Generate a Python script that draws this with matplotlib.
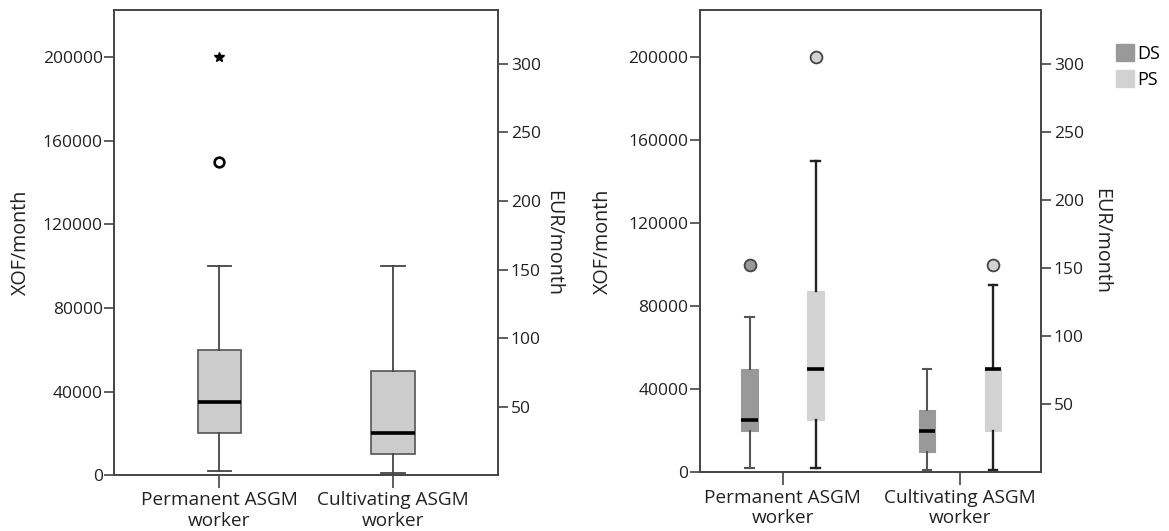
import matplotlib
matplotlib.use("Agg")
import matplotlib.pyplot as plt
from matplotlib.patches import Patch

plt.rcParams['font.family'] = ['Open Sans', 'DejaVu Sans']

# ---------------- data ----------------
categories = ["Permanent ASGM\nworker", "Cultivating ASGM\nworker"]
xof_per_eur = 655.957

# left panel: all workers
all_whislo = [2000, 1000]
all_q1 = [20000, 10000]
all_med = [35000, 20000]
all_q3 = [60000, 50000]
all_whishi = [100000, 100000]
all_outliers = [[150000], []]
all_extremes = [[200000], []]

# right panel: DS / PS
groups = ["DS", "PS"]
ds_whislo = [2000, 1000]
ds_q1 = [20000, 10000]
ds_med = [25000, 20000]
ds_q3 = [50000, 30000]
ds_whishi = [75000, 50000]
ds_outliers = [[100000], []]

ps_whislo = [2000, 1000]
ps_q1 = [25000, 20000]
ps_med = [50000, 50000]
ps_q3 = [87500, 50000]
ps_whishi = [150000, 90000]
ps_outliers = [[200000], [100000]]

xof_ticks = [0, 40000, 80000, 120000, 160000, 200000]
eur_ticks = [50, 100, 150, 200, 250, 300]

# ---------------- styling ----------------
W, H = 1169, 531
fig = plt.figure(figsize=(W / 100, H / 100), dpi=100)
spine_c = '#444444'
TXT = '#222222'
CAT_FS = 13.7
TFS = 12.5
YL_FS = 14.2
ymax = 222500


def stats(lo, q1, med, q3, hi, fl):
    return [dict(whislo=a, q1=b, med=c, q3=d, whishi=e, fliers=f, label='')
            for a, b, c, d, e, f in zip(lo, q1, med, q3, hi, fl)]


def style_axes(ax, xlim, label_x_left, label_x_right):
    ax.set_xlim(*xlim)
    ax.set_ylim(0, ymax)
    ax.set_yticks(xof_ticks)
    ax.set_yticklabels([str(t) for t in xof_ticks], fontsize=TFS, color=TXT)
    ax.set_xticks([1, 2])
    ax.set_xticklabels(categories, fontsize=CAT_FS, color=TXT, linespacing=1.17)
    ax.tick_params(axis='x', length=9.4, width=1.2, color=spine_c, pad=2.2)
    ax.tick_params(axis='y', length=7.2, width=1.2, color=spine_c, pad=1)
    for s in ax.spines.values():
        s.set_color(spine_c)
        s.set_linewidth(1.2)
    ax2 = ax.twinx()
    ax2.set_ylim(0, ymax / xof_per_eur)
    ax2.set_yticks(eur_ticks)
    ax2.set_yticklabels([str(t) for t in eur_ticks], fontsize=TFS, color=TXT)
    ax2.tick_params(axis='y', length=7.5, width=1.2, color=spine_c, pad=1.5)
    for s in ax2.spines.values():
        s.set_color(spine_c)
        s.set_linewidth(1.2)
    ax.text(label_x_left, 0.5, "XOF/month", transform=ax.transAxes, rotation=90,
            ha='center', va='center', fontsize=YL_FS, color=TXT)
    ax.text(label_x_right, 0.5, "EUR/month", transform=ax.transAxes, rotation=270,
            ha='center', va='center', fontsize=YL_FS, color=TXT)
    return ax2


# ---------------- left panel ----------------
axL = fig.add_axes([114.3 / W, 1 - 475.1 / H, (498.2 - 114.3) / W, (475.1 - 10.2) / H])
posL = [1, 2]
axL.bxp(stats(all_whislo, all_q1, all_med, all_q3, all_whishi, all_outliers),
        positions=posL, widths=0.25, capwidths=0.135, patch_artist=True,
        boxprops=dict(facecolor='#cccccc', edgecolor='#555555', linewidth=1.2),
        medianprops=dict(color='black', linewidth=2.6),
        whiskerprops=dict(color='#444444', linewidth=1.3),
        capprops=dict(color='#444444', linewidth=1.3),
        flierprops=dict(marker='o', markersize=7, markerfacecolor='white',
                        markeredgecolor='black', markeredgewidth=1.9, linestyle='none'))
for p, ex in zip(posL, all_extremes):
    if ex:
        axL.plot([p] * len(ex), ex, linestyle='none', marker='*', markersize=7,
                 color='black')
style_axes(axL, (0.394, 2.606), -0.244, 1.144)

# ---------------- right panel ----------------
axR = fig.add_axes([700 / W, 1 - 472.4 / H, (1041.2 - 700) / W, (472.4 - 10.2) / H])
off = 0.186
ds_color = '#999999'
ps_color = '#d2d2d2'
posDS = [1 - off, 2 - off]
posPS = [1 + off, 2 + off]
axR.bxp(stats(ds_whislo, ds_q1, ds_med, ds_q3, ds_whishi, ds_outliers),
        positions=posDS, widths=0.094, capwidths=0.05, patch_artist=True,
        boxprops=dict(facecolor=ds_color, edgecolor=ds_color, linewidth=0.8),
        medianprops=dict(color='black', linewidth=2.6),
        whiskerprops=dict(color='#555555', linewidth=1.5),
        capprops=dict(color='#555555', linewidth=1.5),
        flierprops=dict(marker='o', markersize=8.5, markerfacecolor=ds_color,
                        markeredgecolor='#444444', markeredgewidth=1.3, linestyle='none'))
axR.bxp(stats(ps_whislo, ps_q1, ps_med, ps_q3, ps_whishi, ps_outliers),
        positions=posPS, widths=0.094, capwidths=0.05, patch_artist=True,
        boxprops=dict(facecolor=ps_color, edgecolor=ps_color, linewidth=0.8),
        medianprops=dict(color='black', linewidth=2.6),
        whiskerprops=dict(color='#222222', linewidth=1.7),
        capprops=dict(color='#222222', linewidth=1.7),
        flierprops=dict(marker='o', markersize=8.5, markerfacecolor=ps_color,
                        markeredgecolor='#444444', markeredgewidth=1.3, linestyle='none'))
style_axes(axR, (0.5334, 2.458), -0.284, 1.175)

handles = [Patch(facecolor=ds_color, edgecolor=ds_color, label=groups[0]),
           Patch(facecolor=ps_color, edgecolor=ps_color, label=groups[1])]
fig.legend(handles=handles, loc='upper left', bbox_to_anchor=(1116 / W, 1 - 44 / H),
           frameon=False, fontsize=13, handlelength=1.0, handleheight=1.05,
           handletextpad=0.15, labelspacing=0.42, borderpad=0, borderaxespad=0)

fig.savefig("out.png", dpi=100)
